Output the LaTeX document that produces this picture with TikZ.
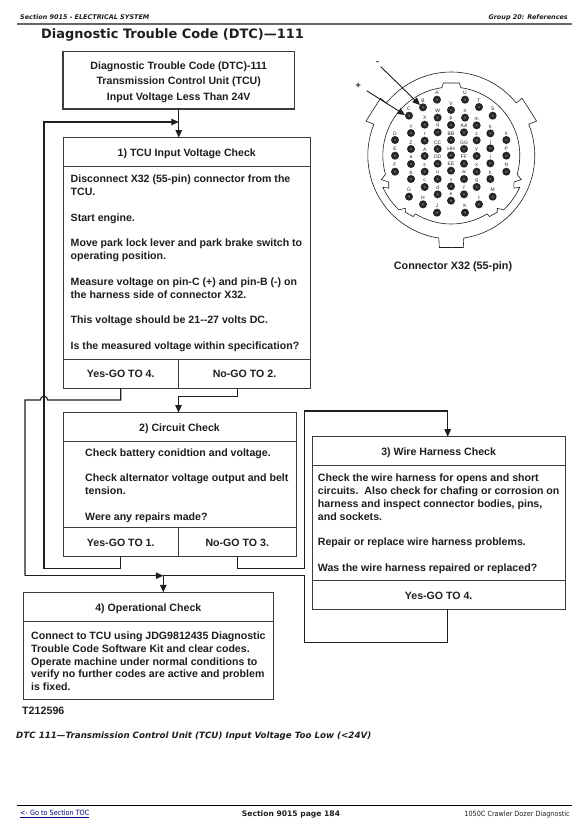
\documentclass[tikz,border=0pt]{standalone}
\usepackage{fontspec}
\setmainfont{Liberation Sans}
\newfontfamily\dvs{DejaVu Sans}
\newfontfamily\dvc[FakeStretch=0.9]{DejaVu Sans}
\usetikzlibrary{arrows.meta}
\definecolor{ink}{HTML}{1E1E1E}
\definecolor{frame}{HTML}{3C3C3C}
\tikzset{
  frm/.style={draw=frame,line width=0.9pt,rectangle,inner sep=0pt,outer sep=0pt,anchor=north west,text=ink,
    font=\fontsize{10.6}{12.83}\selectfont\bfseries,align=center},
  cell/.style={frm,text height=9.2pt,text depth=0.4pt},
  bodytext/.style={anchor=west,inner sep=0pt,align=left,text=ink,yshift=-1pt,font=\fontsize{10.6}{12.83}\selectfont\bfseries},
  wire/.style={draw=ink,line width=1.1pt},
  tip/.style={-{Triangle[length=7.5pt,width=6.5pt]}},
  lbl/.style={inner sep=0pt,text=ink},
  ring/.style={draw=ink,line width=0.6pt},
}
\begin{document}
\begin{tikzpicture}[x=1pt,y=-1pt]
\useasboundingbox (0,0) rectangle (584,830);
\fill[white] (0,0) rectangle (584,830);
% page header
\coordinate (hl) at (17,24); \coordinate (hr) at (571.5,24);
\draw[line width=1.6pt,draw=black!60] (hl) -- (hr);
\node[lbl,anchor=west,font=\dvs\fontsize{6.45}{8}\selectfont\bfseries\itshape] (sec) at (20,17.3) {Section 9015 - ELECTRICAL SYSTEM};
\node[lbl,anchor=east,font=\dvs\fontsize{6.45}{8}\selectfont\bfseries\itshape] (grp) at (568,17.3) {Group 20: References};
\node[lbl,anchor=west,font=\dvs\fontsize{12.95}{16}\selectfont\bfseries] (title) at (41,35.3) {Diagnostic Trouble Code (DTC)—111};
% top box
\node[frm,line width=1.8pt,minimum width=231.5pt,minimum height=57.5pt] (top) at (63,51.5) {};
\node[lbl,align=center,yshift=-2pt,font=\fontsize{10.6}{15.3}\selectfont\bfseries] (toptext) at (top.center)
 {Diagnostic Trouble Code (DTC)-111\\Transmission Control Unit (TCU)\\Input Voltage Less Than 24V};
% box 1
\node[cell,minimum width=247.5pt,minimum height=28.5pt] (h1) at (63,137.5) {1) TCU Input Voltage Check};
\node[frm,minimum width=247.5pt,minimum height=193pt] (b1) at (63,166) {};
\node[cell,minimum width=115.5pt,minimum height=29pt] (y1) at (63,359) {Yes-GO TO 4.};
\node[cell,minimum width=132pt,minimum height=29pt] (n1) at (178.5,359) {No-GO TO 2.};
\node[bodytext] (t1) at ([xshift=7.5pt]b1.west) {Disconnect X32 (55-pin) connector from the\\TCU.\\[12.83pt]Start engine.\\[12.83pt]Move park lock lever and park brake switch to\\operating position.\\[12.83pt]Measure voltage on pin-C (+) and pin-B (-) on\\the harness side of connector X32.\\[12.83pt]This voltage should be 21-{}-27 volts DC.\\[12.83pt]Is the measured voltage within specification?};
% box 2
\node[cell,minimum width=233pt,minimum height=28.8pt] (h2) at (63,412.5) {2) Circuit Check};
\node[frm,minimum width=233pt,minimum height=86.4pt] (b2) at (63,441.3) {};
\node[cell,minimum width=115.5pt,minimum height=29pt] (y2) at (63,527.7) {Yes-GO TO 1.};
\node[cell,minimum width=117.5pt,minimum height=29pt] (n2) at (178.5,527.7) {No-GO TO 3.};
\node[bodytext] (t2) at ([xshift=22pt]b2.west) {Check battery conidtion and voltage.\\[12.83pt]Check alternator voltage output and belt\\tension.\\[12.83pt]Were any repairs made?};
% box 3
\node[cell,minimum width=252.7pt,minimum height=28.6pt] (h3) at (312.3,436.7) {3) Wire Harness Check};
\node[frm,minimum width=252.7pt,minimum height=115.4pt] (b3) at (312.3,465.3) {};
\node[cell,minimum width=252.7pt,minimum height=28.6pt] (f3) at (312.3,580.7) {Yes-GO TO 4.};
\node[bodytext] (t3) at ([xshift=5.4pt]b3.west) {Check the wire harness for opens and short\\circuits.\ \ Also check for chafing or corrosion on\\harness and inspect connector bodies, pins,\\and sockets.\\[12.83pt]Repair or replace wire harness problems.\\[12.83pt]Was the wire harness repaired or replaced?};
% box 4
\node[cell,minimum width=250pt,minimum height=29pt] (h4) at (23.3,592.3) {4) Operational Check};
\node[frm,minimum width=250pt,minimum height=78pt] (b4) at (23.3,621.3) {};
\node[bodytext] (t4) at ([xshift=7.7pt]b4.west) {Connect to TCU using JDG9812435 Diagnostic\\Trouble Code Software Kit and clear codes.\\Operate machine under normal conditions to\\verify no further codes are active and problem\\is fixed.};
% connector routing points
\coordinate (a1) at (44,122);
\coordinate (a2) at (44,568.3);
\coordinate (bus) at (25,575.7);
\coordinate (busr) at (304.7,575.7);
\coordinate (in4t) at (163.3,592.3);
\coordinate (in4m) at (163.3,575.7);
\coordinate (in3t) at (447.7,436.7);
\coordinate (in3m) at (447.7,411);
\coordinate (out3) at (447.7,609.3);
\coordinate (in2t) at (178.5,412.5);
\coordinate (in2m) at (178.5,396.7);
% connectors
\draw[wire,tip] (top.south) -- (top.south |- h1.north);
\draw[wire,tip] (y2.south) |- (a2) -- (a1) -- (top.south |- a1);
\draw[wire] (y1.south) -- (y1.south |- 0,400) -- (47.7,400) arc[start angle=0,end angle=-180,radius=3.7] -- (25,400) -- (bus);
\draw[wire,tip] (bus) -- (in4m);
\draw[wire,tip] (in4m) -- (in4t);
\draw[wire] (busr) -- (in4m);
\draw[wire,tip] (n2.south |- n1.south) |- (in2m) -- (in2t);
\draw[wire,tip] (n2.south) |- (304.7,568.3) -- (304.7,411) -- (in3m) -- (in3t);
\draw[wire] (out3) -- (447.7,642.3) -- (304.7,642.3) -- (busr);
% connector X32 drawing
\begin{scope}[shift={(451.3pt,-155.5pt)},x=1pt,y=1pt]
 \foreach \sx in {1,-1}{
 \begin{scope}[xscale=\sx]
  \draw[ring] (90:83.5) arc[start angle=90,end angle=141,radius=83.5] -- (141:91) -- (158:92) -- (158:83.5)
    arc[start angle=158,end angle=261.4,radius=83.5] -- (-12,-92) -- (0,-92);
  \draw[ring] (0,72.5) -- (-8,72.5) -- (-9.5,67.8) -- (98:68.5) arc[start angle=98,end angle=196,radius=68.5]
    -- (199:74) -- (203:68) -- (207.5:70.5) -- (205:75.5) arc[start angle=205,end angle=226,radius=75.5]
    -- (229:70) -- (231:73) -- (238:72) -- (238.5:68.5) arc[start angle=238.5,end angle=270,radius=68.5];
 \end{scope}}
\end{scope}
\foreach \lab/\zx/\zy [count=\i] in {A/291/149,U/375/149,V/333/180,T/417/171,S/458/197,B/249/172,W/293/203,n/375/203,C/207/197,X/254/224,p/333/225,m/410/226,k/451/250,Y/213/249,q/293/247,AA/372/247,D/165/270,r/254/272,BB/333/270,z/410/271,II/499/270,Z/213/297,CC/293/297,GG/372/297,j/451/295,E/165/317,A/254/318,HH/333/316,y/410/318,P/499/317,a/213/342,DD/293/341,FF/372/341,i/451/340,F/165/365,s/254/365,EE/333/362,x/410/365,N/499/365,b/213/387,u/293/387,w/372/387,h/451/387,c/254/411,v/333/409,g/410/411,G/207/440,d/293/433,f/372/433,M/458/440,H/249/463,e/333/452,t/417/463,J/291/488,K/375/488}{
 \pgfmathsetmacro{\px}{340+\zx/3}
 \pgfmathsetmacro{\py}{50+\zy/3}
 \fill[black!85] (\px,\py) circle[radius=4];
 \fill[black!60] (\px,\py) circle[radius=1.2];
 \node[inner sep=0pt,text=black!85,font=\fontsize{5}{5.5}\selectfont] (pin\i) at (\px,\py-6.6) {\lab};
}
\coordinate (mtail) at (380.7,66.7); \coordinate (mtip) at (420,105);
\coordinate (ptail) at (366.7,90.7); \coordinate (ptip) at (405,115);
\draw[wire,line width=0.9pt,tip] (mtail) -- (mtip);
\draw[wire,line width=0.9pt,tip] (ptail) -- (ptip);
\node[lbl,font=\fontsize{9}{10}\selectfont\bfseries] (minus) at (377.7,63) {-};
\node[lbl,font=\fontsize{9}{10}\selectfont\bfseries] (plus) at (358.3,86) {+};
\node[lbl,font=\fontsize{10.8}{12}\selectfont\bfseries] (cap) at (453,267) {Connector X32 (55-pin)};
% lower text
\node[lbl,anchor=west,font=\fontsize{10.7}{12}\selectfont\bfseries] (tnum) at (22,711) {T212596};
\node[lbl,anchor=west,font=\dvs\fontsize{8.7}{11}\selectfont\bfseries\itshape] (dtc) at (16,736.5) {DTC 111—Transmission Control Unit (TCU) Input Voltage Too Low (<24V)};
\coordinate (fl) at (17,805.7); \coordinate (fr) at (572,805.7);
\draw[line width=0.8pt,draw=black] (fl) -- (fr);
\node[lbl,anchor=west,text=blue!50!black,font=\dvc\fontsize{7.2}{8}\selectfont] (toc) at (20,814.3) {\underline{<- Go to Section TOC}};
\node[lbl,font=\dvs\fontsize{7.6}{9}\selectfont\bfseries] (pg) at (291,814.3) {Section 9015 page 184};
\node[lbl,anchor=east,font=\dvc\fontsize{7.2}{8}\selectfont] (mach) at (570,814.3) {1050C Crawler Dozer Diagnostic};
\end{tikzpicture}
\end{document}
